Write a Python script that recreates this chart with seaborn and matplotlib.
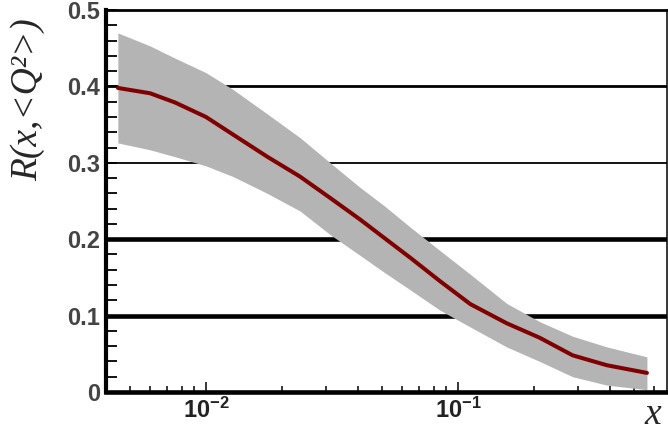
import numpy as np
import pandas as pd
import matplotlib
matplotlib.use("Agg")
import matplotlib.pyplot as plt
import matplotlib.ticker as mticker
import seaborn as sns

# data
x_vals = [0.00447, 0.0060, 0.00753, 0.0100, 0.0128, 0.0175, 0.0236, 0.0311, 0.0408,
          0.0513, 0.0651, 0.0849, 0.112, 0.156, 0.211, 0.285, 0.390, 0.562]
r_vals = [0.398, 0.391, 0.379, 0.360, 0.337, 0.308, 0.282, 0.254, 0.226,
          0.201, 0.175, 0.145, 0.115, 0.090, 0.071, 0.048, 0.035, 0.025]
r_upper = [0.470, 0.453, 0.437, 0.418, 0.396, 0.364, 0.333, 0.300, 0.268,
           0.243, 0.215, 0.185, 0.154, 0.116, 0.092, 0.073, 0.059, 0.046]
r_lower = [0.326, 0.317, 0.308, 0.296, 0.282, 0.260, 0.237, 0.206, 0.179,
           0.156, 0.133, 0.107, 0.085, 0.059, 0.040, 0.020, 0.009, 0.003]
y_ticks = [0, 0.1, 0.2, 0.3, 0.4, 0.5]
y_tick_labels = ["0", "0.1", "0.2", "0.3", "0.4", "0.5"]
x_ticks = [0.01, 0.1]
x_tick_labels = [r"$\mathbf{10^{-2}}$", r"$\mathbf{10^{-1}}$"]
grid_levels = [0.1, 0.2, 0.3, 0.4]
grid_widths = [3.3, 3.3, 1.3, 2.0]

df = pd.DataFrame({"x": x_vals, "R": r_vals, "lo": r_lower, "hi": r_upper})

sns.set_theme(style="ticks")
plt.rcParams["font.family"] = ["Liberation Sans", "DejaVu Sans"]
plt.rcParams["mathtext.fontset"] = "custom"
plt.rcParams["mathtext.rm"] = "Liberation Sans"
plt.rcParams["mathtext.bf"] = "Liberation Sans:bold"
plt.rcParams["mathtext.it"] = "Liberation Serif:italic"

fig = plt.figure(figsize=(6.68, 4.34), dpi=100)
ax = fig.add_axes([106 / 668, 1 - 392 / 434, 561 / 668, 382 / 434])

for lvl, lw in zip(grid_levels, grid_widths):
    ax.axhline(lvl, color="black", lw=lw, zorder=1)

ax.fill_between(df["x"], df["lo"], df["hi"], color="#b4b4b4", lw=0, zorder=2)
sns.lineplot(data=df, x="x", y="R", ax=ax, color="#800000", lw=2.9, zorder=3)

ax.set_xscale("log")
ax.set_xlim(10 ** -2.3968, 10 ** -0.1706)
ax.set_ylim(0, 0.5)

ax.set_yticks(y_ticks)
ax.set_yticklabels(y_tick_labels)
ax.yaxis.set_minor_locator(mticker.MultipleLocator(0.02))
ax.set_xticks(x_ticks)
ax.set_xticklabels(x_tick_labels)
ax.xaxis.set_minor_locator(mticker.LogLocator(base=10, subs=np.arange(2, 10)))
ax.xaxis.set_minor_formatter(mticker.NullFormatter())

ax.tick_params(axis="y", which="both", direction="in", length=7.8, width=1.3,
               labelsize=17, pad=4, colors="black", labelcolor="#444444")
ax.tick_params(axis="x", which="major", direction="in", length=7, width=1.3,
               labelsize=17, pad=4, labelcolor="#222222")
ax.tick_params(axis="x", which="minor", direction="in", length=4.5, width=1.3)
for lab in ax.get_yticklabels():
    lab.set_fontweight("bold")

for side, lw in [("left", 3.0), ("bottom", 3.3), ("top", 2.0), ("right", 1.1)]:
    ax.spines[side].set_visible(True)
    ax.spines[side].set_linewidth(lw)
    ax.spines[side].set_color("black")
    ax.spines[side].set_zorder(5)

ax.set_xlabel("x", fontsize=27, fontstyle="italic", family="Liberation Serif")
ax.xaxis.set_label_coords(0.975, -0.106)
ax.xaxis.label.set_va("bottom")
ax.set_ylabel("R(x,<Q²>)", fontsize=27, fontstyle="italic", family="Liberation Serif")
ax.yaxis.set_label_coords(-0.14, 0.765)
ax.yaxis.label.set_va("center")

fig.savefig("out.png", dpi=100)
